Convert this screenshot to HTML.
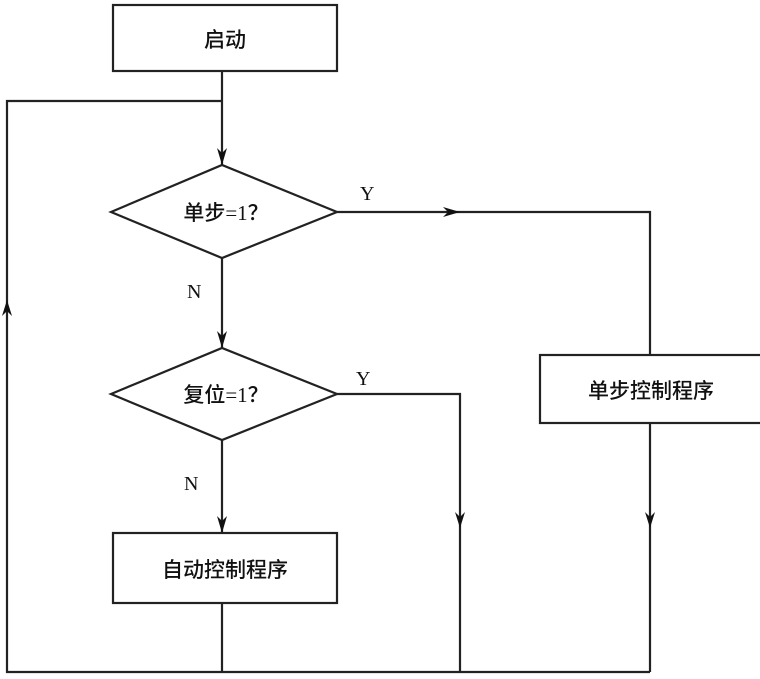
<!DOCTYPE html>
<html><head><meta charset="utf-8"><style>
body{margin:0;background:#fff;width:760px;height:674px;overflow:hidden}
text{font-family:"Liberation Serif","Noto Sans CJK SC",serif;font-size:20px;fill:#111}
.c{font-family:"Liberation Serif","Noto Sans CJK SC",sans-serif;font-weight:500;font-size:21px}
</style></head><body>
<svg width="760" height="674" viewBox="0 0 760 674">
<g stroke="#222" stroke-width="2.2" fill="none">
<rect x="113" y="5" width="224" height="66" fill="#fff"/>
<rect x="113" y="533" width="224" height="70" fill="#fff"/>
<rect x="540" y="355" width="222" height="68" fill="#fff"/>
<polygon points="111,212 222,165 337,212 222,258" fill="#fff"/>
<polygon points="111,394 222,348 337,394 222,440" fill="#fff"/>
<path d="M222,71 V165 M222,101 H7 V672 H650 M222,258 V348 M222,440 V533 M222,603 V672 M337,212 H650 V355 M337,394 H460 V672 M650,423 V672"/>
</g>
<g fill="#111">
<path d="M217,148 L222,165 L227,148 L222,153Z"/>
<path d="M217,331 L222,348 L227,331 L222,336Z"/>
<path d="M217,516 L222,533 L227,516 L222,521Z"/>
<path d="M2,316 L7,300 L12,316 L7,311Z"/>
<path d="M443,207 L460,212 L443,217 L448,212Z"/>
<path d="M455,512 L460,528 L465,512 L460,517Z"/>
<path d="M645,512 L650,528 L655,512 L650,517Z"/>
</g>
<text class="c" x="225" y="47" text-anchor="middle">启动</text>
<text class="c" x="226" y="220" text-anchor="middle">单步=1？</text>
<text class="c" x="226" y="402" text-anchor="middle">复位=1？</text>
<text class="c" x="225" y="577" text-anchor="middle">自动控制程序</text>
<text class="c" x="651" y="398" text-anchor="middle">单步控制程序</text>
<text x="360" y="200">Y</text>
<text x="356" y="385">Y</text>
<text x="187" y="298">N</text>
<text x="184" y="490">N</text>
</svg>
</body></html>
